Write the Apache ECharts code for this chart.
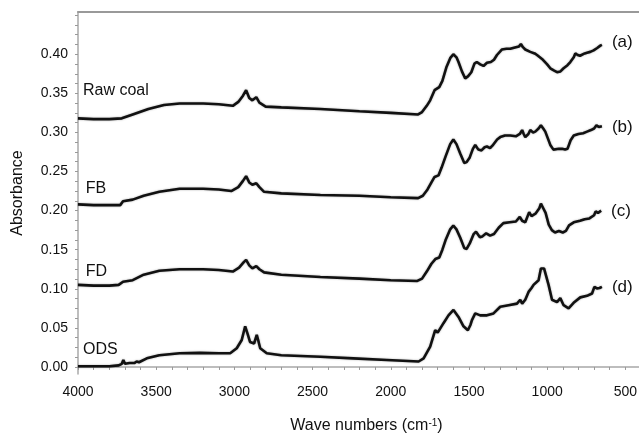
<!DOCTYPE html>
<html lang="en">
<head>
    <meta charset="UTF-8">
    <title>FTIR spectra</title>
    <script src="https://cdn.jsdelivr.net/npm/echarts@6.0.0/dist/echarts.min.js"></script>
</head>
<body style="margin:0">
    <div id="chart" style="width: 639px;height: 437px;"></div>
    <script>
        // spectra: [wave number, absorbance]
        var rawCoal = [[4000,0.318],[3900,0.317],[3800,0.317],[3720,0.318],[3650,0.323],[3550,0.330],[3450,0.335],[3350,0.337],[3200,0.337],[3100,0.336],[3010,0.334],[2975,0.339],[2945,0.347],[2925,0.354],[2905,0.344],[2885,0.341],[2860,0.345],[2840,0.338],[2800,0.333],[2700,0.332],[2450,0.330],[2200,0.327],[2000,0.325],[1825,0.323],[1800,0.326],[1770,0.334],[1748,0.341],[1720,0.354],[1690,0.358],[1670,0.366],[1645,0.383],[1620,0.395],[1600,0.400],[1580,0.396],[1567,0.390],[1545,0.378],[1524,0.369],[1505,0.372],[1485,0.377],[1465,0.388],[1450,0.390],[1428,0.387],[1407,0.385],[1385,0.389],[1360,0.390],[1340,0.393],[1321,0.399],[1290,0.406],[1260,0.407],[1236,0.407],[1200,0.409],[1180,0.410],[1168,0.413],[1155,0.409],[1140,0.406],[1108,0.403],[1080,0.401],[1065,0.399],[1033,0.394],[1000,0.387],[980,0.382],[955,0.379],[937,0.377],[915,0.378],[895,0.382],[870,0.386],[852,0.390],[830,0.396],[820,0.401],[805,0.399],[790,0.398],[760,0.401],[745,0.402],[725,0.403],[703,0.405],[680,0.408],[660,0.411],[650,0.412]]
        var fb = [[4000,0.208],[3900,0.207],[3800,0.207],[3730,0.207],[3712,0.212],[3700,0.210],[3650,0.214],[3580,0.219],[3480,0.224],[3350,0.228],[3200,0.228],[3100,0.227],[3020,0.225],[2975,0.230],[2945,0.238],[2925,0.244],[2905,0.236],[2885,0.233],[2860,0.235],[2840,0.230],[2810,0.224],[2700,0.222],[2450,0.220],[2200,0.219],[2000,0.217],[1825,0.216],[1795,0.219],[1765,0.227],[1740,0.236],[1720,0.243],[1695,0.245],[1675,0.255],[1650,0.269],[1620,0.285],[1600,0.291],[1580,0.285],[1556,0.273],[1530,0.261],[1515,0.262],[1495,0.268],[1475,0.279],[1460,0.284],[1440,0.278],[1420,0.277],[1400,0.281],[1385,0.282],[1365,0.280],[1350,0.283],[1320,0.291],[1300,0.294],[1270,0.296],[1236,0.296],[1200,0.295],[1175,0.298],[1160,0.303],[1150,0.298],[1140,0.294],[1120,0.298],[1108,0.303],[1090,0.300],[1076,0.301],[1055,0.305],[1040,0.309],[1025,0.305],[1012,0.301],[995,0.292],[980,0.284],[960,0.278],[948,0.277],[925,0.279],[905,0.279],[885,0.278],[870,0.279],[850,0.290],[830,0.296],[800,0.298],[770,0.299],[745,0.301],[720,0.303],[700,0.305],[685,0.309],[670,0.307],[650,0.308]]
        var fd = [[4000,0.105],[3900,0.104],[3800,0.104],[3740,0.105],[3712,0.109],[3700,0.107],[3650,0.111],[3580,0.118],[3480,0.123],[3350,0.125],[3200,0.125],[3100,0.124],[3010,0.122],[2970,0.127],[2940,0.134],[2925,0.137],[2905,0.130],[2885,0.126],[2860,0.129],[2840,0.125],[2810,0.121],[2700,0.118],[2450,0.115],[2200,0.113],[2000,0.111],[1830,0.110],[1800,0.113],[1770,0.122],[1740,0.132],[1715,0.138],[1690,0.140],[1670,0.150],[1650,0.162],[1620,0.176],[1600,0.181],[1580,0.176],[1555,0.165],[1530,0.152],[1515,0.151],[1495,0.158],[1470,0.170],[1455,0.173],[1430,0.166],[1415,0.167],[1390,0.171],[1365,0.168],[1340,0.170],[1310,0.178],[1280,0.184],[1240,0.185],[1200,0.186],[1175,0.192],[1160,0.187],[1140,0.185],[1115,0.198],[1100,0.193],[1075,0.196],[1050,0.203],[1040,0.209],[1025,0.203],[1010,0.197],[990,0.182],[970,0.175],[950,0.172],[925,0.174],[900,0.172],[880,0.174],[860,0.181],[830,0.185],[790,0.187],[760,0.189],[730,0.190],[700,0.194],[690,0.199],[675,0.197],[655,0.200]]
        var ods = [[4000,0.001],[3900,0.001],[3800,0.001],[3740,0.002],[3720,0.004],[3710,0.009],[3700,0.004],[3670,0.005],[3640,0.005],[3625,0.007],[3610,0.006],[3560,0.011],[3480,0.015],[3350,0.0175],[3220,0.018],[3100,0.0175],[3027,0.0175],[2985,0.024],[2953,0.0345],[2931,0.052],[2915,0.042],[2900,0.032],[2874,0.030],[2857,0.041],[2845,0.032],[2835,0.024],[2793,0.0175],[2700,0.015],[2450,0.013],[2240,0.011],[2025,0.009],[1822,0.007],[1790,0.011],[1748,0.026],[1716,0.047],[1700,0.044],[1690,0.043],[1663,0.056],[1631,0.066],[1599,0.073],[1567,0.064],[1535,0.052],[1507,0.047],[1490,0.054],[1481,0.060],[1460,0.0685],[1428,0.066],[1385,0.066],[1343,0.0685],[1300,0.077],[1247,0.079],[1193,0.081],[1172,0.086],[1160,0.081],[1140,0.086],[1119,0.096],[1100,0.101],[1087,0.105],[1055,0.111],[1040,0.126],[1033,0.128],[1020,0.126],[1012,0.124],[991,0.105],[969,0.086],[937,0.083],[916,0.088],[895,0.079],[863,0.075],[831,0.082],[788,0.089],[745,0.091],[713,0.094],[698,0.1025],[682,0.1005],[665,0.101],[650,0.1025]]

        var sampleNames = ['Raw coal', 'FB', 'FD', 'ODS']
        var curveTags = ['(a)', '(b)', '(c)', '(d)']
        // where the sample name sits, [wave number, absorbance]
        var namePos = [[3968, 0.353], [3950, 0.2275], [3950, 0.122], [3968, 0.0217]]
        var tagOffsetY = [-3, 1, 1, 0]

        var xLabels = [4000, 3500, 3000, 2500, 2000, 1500, 1000, 500]
        var yLabels = [0, 0.05, 0.10, 0.15, 0.20, 0.25, 0.30, 0.35, 0.40]

        // small ticks: every 100 cm-1 on x, every 0.0125 on y
        var xTicks = []
        for (var t = 400; t <= 4000; t += 100) xTicks.push(t)
        var yTicks = []
        for (var k = 0; k <= 36; k++) yTicks.push(+(k * 0.0125).toFixed(4))

        var font = 'Liberation Sans, Arial, sans-serif'
        var spectra = [rawCoal, fb, fd, ods]

        var textStyle = { color: '#111', fontFamily: font }

        var series = spectra.map(function (d, i) {
            return {
                name: sampleNames[i],
                type: 'line',
                data: d,
                showSymbol: false,
                silent: true,
                lineStyle: { color: '#111', width: 2.6, shadowColor: 'rgba(0,0,0,0.35)', shadowBlur: 2 },
                markPoint: {
                    symbol: 'circle',
                    symbolSize: 0,
                    silent: true,
                    data: [
                        {
                            coord: namePos[i],
                            label: Object.assign({ show: true, position: 'right', distance: 0, formatter: sampleNames[i], fontSize: 16 }, textStyle)
                        },
                        {
                            // tag next to the low-wavenumber end of the curve
                            coord: d[d.length - 1],
                            label: Object.assign({ show: true, position: 'right', distance: 10, offset: [0, tagOffsetY[i]], formatter: curveTags[i], fontSize: 17 }, textStyle)
                        }
                    ]
                }
            }
        })

        var myCharts = echarts.init(document.getElementById('chart'))
        var option = {
            animation: false,
            backgroundColor: '#fff',
            grid: { left: 78, top: 12, width: 563, height: 362, outerBoundsMode: 'none', containLabel: false },
            xAxis: [
                {
                    type: 'value',
                    min: 400,
                    max: 4000,
                    inverse: true,
                    name: '{n|Wave numbers (cm}{s|-1}{n|)}',
                    nameLocation: 'middle',
                    nameGap: 44,
                    nameTextStyle: {
                        padding: [0, 0, 0, 14],
                        rich: {
                            n: { fontSize: 16, color: '#111', fontFamily: font },
                            s: { fontSize: 10, color: '#111', fontFamily: font, verticalAlign: 'top' }
                        }
                    },
                    axisLine: { lineStyle: { color: '#a8a8a8', width: 1.5 } },
                    axisTick: { customValues: xTicks, length: 3, lineStyle: { color: '#999' } },
                    axisLabel: {
                        customValues: xLabels,
                        margin: 11,
                        color: '#111',
                        fontSize: 14,
                        fontFamily: font,
                        formatter: function (v) { return String(v) }
                    },
                    splitLine: { show: false }
                },
                {
                    // top border of the frame
                    type: 'value',
                    position: 'top',
                    min: 400,
                    max: 4000,
                    inverse: true,
                    axisLine: { show: true, lineStyle: { color: '#999', width: 2 } },
                    axisTick: { show: false },
                    axisLabel: { show: false },
                    splitLine: { show: false }
                }
            ],
            yAxis: {
                type: 'value',
                min: -0.009,
                max: 0.454,
                name: 'Absorbance',
                nameLocation: 'middle',
                nameGap: 52,
                nameTextStyle: { fontSize: 16, color: '#111', fontFamily: font },
                axisLine: { show: true, lineStyle: { color: '#a8a8a8', width: 1.5 } },
                axisTick: { show: true, customValues: yTicks, length: 3, lineStyle: { color: '#999' } },
                axisLabel: {
                    customValues: yLabels,
                    margin: 10,
                    color: '#111',
                    fontSize: 14,
                    fontFamily: font,
                    formatter: function (v) { return v.toFixed(2) }
                },
                splitLine: { show: false }
            },
            series: series
        }
        myCharts.setOption(option)
    </script>
</body>
</html>
